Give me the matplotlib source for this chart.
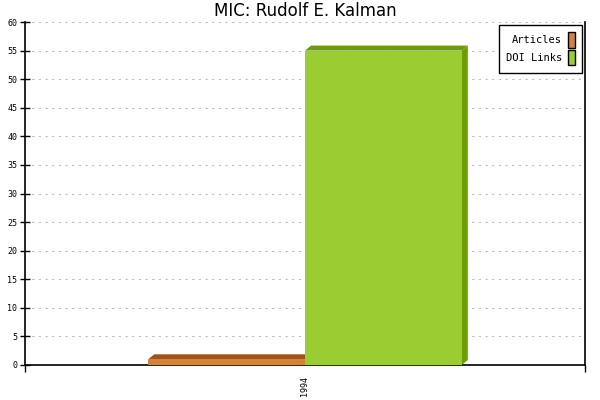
import matplotlib
matplotlib.use('Agg')
from matplotlib import pyplot as plt
from matplotlib.patches import Polygon, Patch

years = ['1994']
series = ['Articles', 'DOI Links']
values = [1, 55]
fronts = ['#CD853F', '#9ACD32']
shades = ['#A0541A', '#6B9E00']

fig = plt.figure(figsize=(6, 4), dpi=100)
ax = fig.add_axes([25/600, 35/400, 560/600, 343/400])

xlim = (-0.5, 0.5)
ylim = (0, 60)
ax.set_xlim(xlim)
ax.set_ylim(ylim)

# depth of the fake 3d faces, 6px right / 5px up
dx = 6 / 560 * (xlim[1] - xlim[0])
dy = 5 / 343 * (ylim[1] - ylim[0])

w = 0.28
for i, (v, fc, sc) in enumerate(zip(values, fronts, shades)):
    x0 = -w + i * w
    x1 = x0 + w
    ax.add_patch(Polygon([(x0, v), (x0 + dx, v + dy), (x1 + dx, v + dy), (x1, v)],
                         closed=True, facecolor=sc, edgecolor='none', zorder=2))
    ax.add_patch(Polygon([(x1, 0), (x1 + dx, dy), (x1 + dx, v + dy), (x1, v)],
                         closed=True, facecolor=sc, edgecolor='none', zorder=2))
    ax.bar(x0, v, width=w, align='edge', color=fc, zorder=3)

ax.set_yticks(range(0, 61, 5))
ax.yaxis.grid(True, linestyle=(0, (2, 4)), color='#bbbbbb', linewidth=0.8)
ax.set_axisbelow(True)
ax.set_xticks([-0.5, 0.5])
ax.set_xticklabels([])
ax.tick_params(axis='x', direction='out', length=5, width=1)
ax.tick_params(axis='y', direction='inout', length=7, width=1, labelsize=6, pad=2)
for t in ax.get_yticklabels():
    t.set_family('DejaVu Sans Mono')
ax.text(0, -2, years[0], rotation=90, ha='center', va='top', fontsize=6,
        family='DejaVu Sans Mono', transform=ax.transData, clip_on=False)

ax.spines['top'].set_visible(False)
for s in ['left', 'right', 'bottom']:
    ax.spines[s].set_linewidth(1.2)

ax.set_title('MIC: Rudolf E. Kalman', fontsize=12, pad=4)

handles = [Patch(facecolor=c, edgecolor='black', linewidth=1) for c in fronts]
leg = ax.legend(handles, series, loc='upper right', markerfirst=False,
                prop={'family': 'DejaVu Sans Mono', 'size': 7.5},
                handlelength=0.6, handleheight=1.9, handletextpad=0.6,
                borderpad=0.7, labelspacing=0.2, fancybox=False, borderaxespad=0,
                framealpha=1, edgecolor='black', bbox_to_anchor=(0.9946, 0.991))
leg.get_frame().set_linewidth(1)

fig.savefig('out.png')
